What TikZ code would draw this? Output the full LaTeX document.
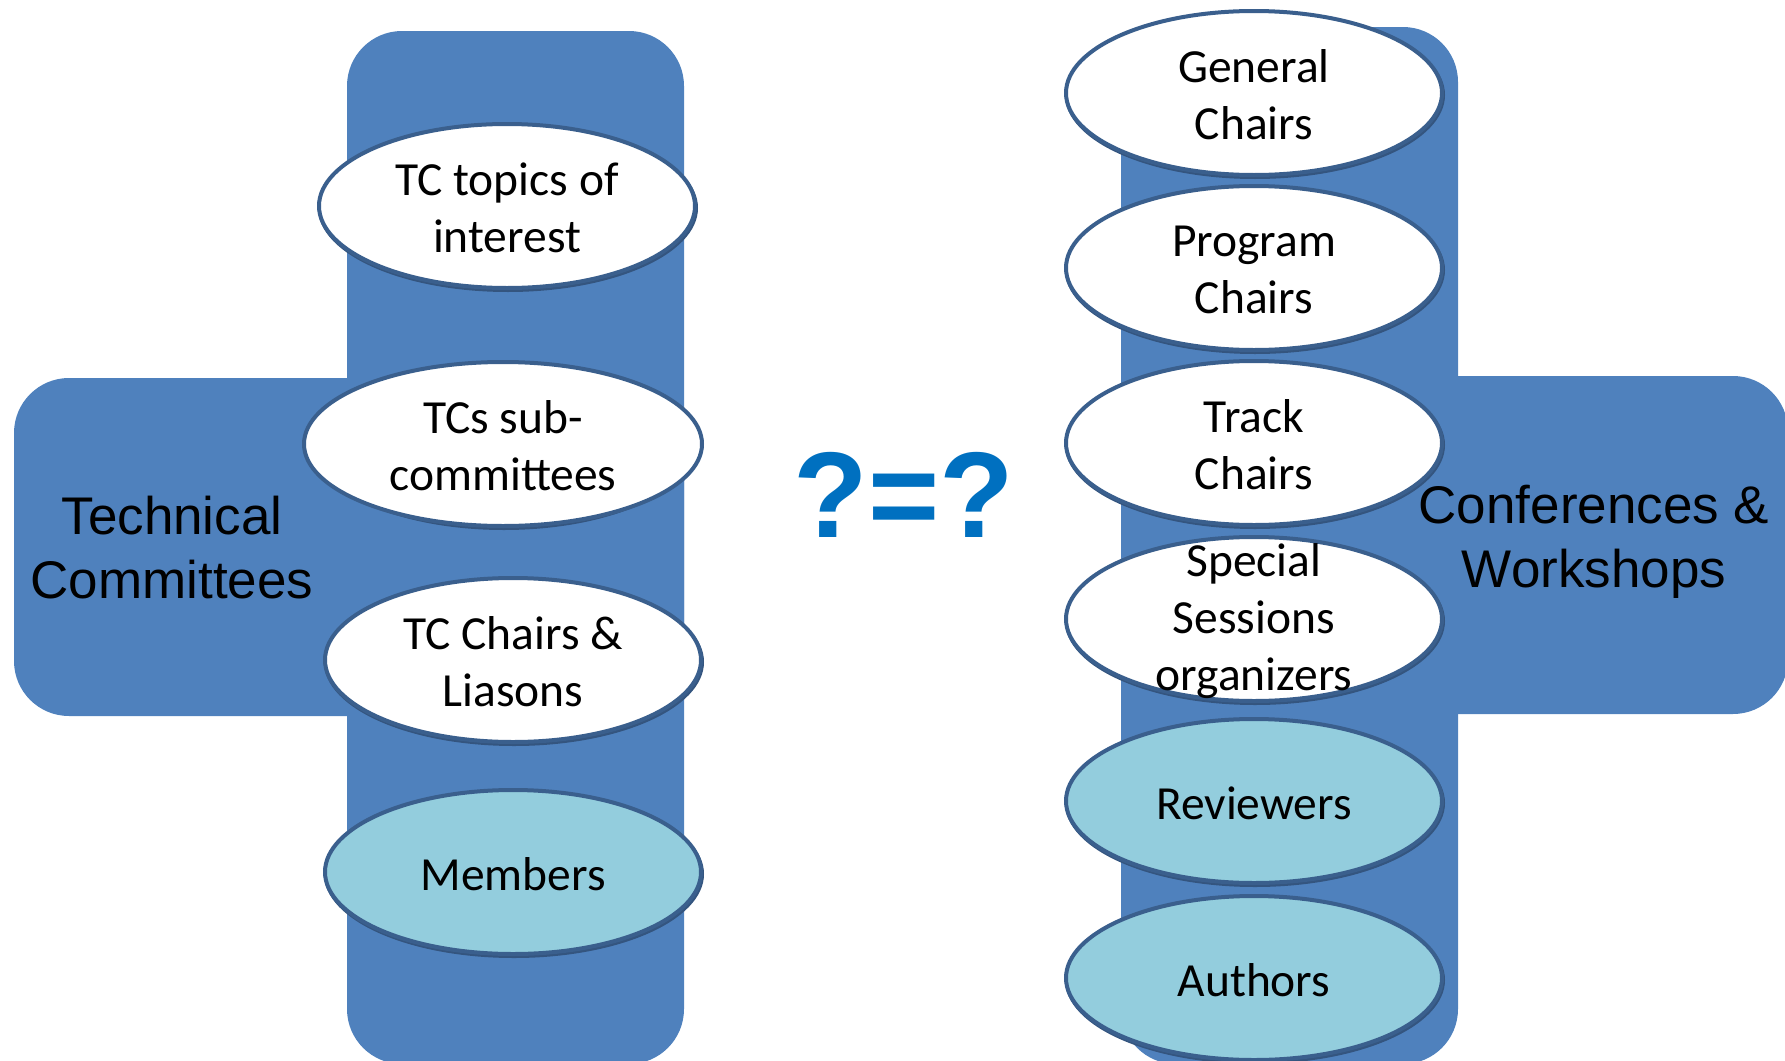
\documentclass[tikz,border=0pt]{standalone}
\usepackage{fontspec}
\setmainfont{Carlito}
\newfontfamily\arialf{Liberation Sans}
\usetikzlibrary{shapes.geometric}
\definecolor{barblue}{HTML}{4F81BD}
\definecolor{edgeblue}{HTML}{3A5F8D}
\definecolor{shadowblue}{HTML}{34557F}
\definecolor{lightfill}{HTML}{93CDDD}
\definecolor{qblue}{HTML}{0070C0}
\begin{document}
\begin{tikzpicture}[x=1pt,y=-1pt,
  bar/.style={fill=barblue, draw=none, rounded corners=55pt},
  oval/.style={ellipse, draw=edgeblue, line width=4pt, fill=white,
    minimum width=376pt, minimum height=164pt, inner sep=0pt},
  member/.style={oval, fill=lightfill},
  ovalshadow/.style={ellipse, fill=shadowblue, draw=none,
    minimum width=380pt, minimum height=168pt, inner sep=0pt},
  ovaltext/.style={align=center, inner sep=0pt, yshift=-2pt, font=\fontsize{47.5}{57}\selectfont},
  biglabel/.style={align=center, inner sep=0pt, font=\arialf\fontsize{53}{64}\selectfont}]
\useasboundingbox (0,0) rectangle (1785,1060);
\begin{scope}
\clip (0,0) rectangle (1785,1060);
% left cross
\path[bar] (347,31) rectangle (684,1064);
\path[bar] (14,378) rectangle (684,716);
% right cross
\path[bar] (1121,27) rectangle (1458,1064);
\path[bar] (1121,376) rectangle (1788,714);

% left ovals
\foreach \n/\x/\y in {s1/508/208, s2/504/446, s3/514/662, s4/514/874}
  \node[ovalshadow] (\n) at (\x,\y) {};
\node[oval] (l1) at (507,206) {};
\node[oval, minimum width=398pt] (l2) at (503,444) {};
\node[oval] (l3) at (513,660) {};
\node[member] (l4) at (513,872) {};
\node[ovaltext] (tl1) at (l1.center) {TC topics of\\interest};
\node[ovaltext] (tl2) at (l2.center) {TCs sub-\\committees};
\node[ovaltext] (tl3) at (l3.center) {TC Chairs \&\\Liasons};
\node[ovaltext] (tl4) at (l4.center) {Members};

% right ovals
\foreach \n/\y in {r1s/95, r2s/270, r3s/445, r4s/621, r5s/803, r6s/980}
  \node[ovalshadow] (\n) at (1255,\y) {};
\node[oval] (r1) at (1254,93) {};
\node[oval] (r2) at (1254,268) {};
\node[oval] (r3) at (1254,443) {};
\node[oval] (r4) at (1254,619) {};
\node[member] (r5) at (1254,801) {};
\node[member] (r6) at (1254,978) {};
\node[ovaltext] (tr1) at (r1.center) {General\\Chairs};
\node[ovaltext] (tr2) at (r2.center) {Program\\Chairs};
\node[ovaltext] (tr3) at (r3.center) {Track\\Chairs};
\node[ovaltext] (tr4) at (r4.center) {Special\\Sessions\\organizers};
\node[ovaltext] (tr5) at (r5.center) {Reviewers};
\node[ovaltext] (tr6) at (r6.center) {Authors};
\end{scope}

% big labels
\node[biglabel] (tc) at (172,548) {Technical\\Committees};
\node[biglabel] (cw) at (1594,542) {Conferences \&\\Workshops};
\node[anchor=base, inner sep=0pt, text=qblue, font=\arialf\bfseries\fontsize{122}{130}\selectfont] (q) at (904,537) {?=?};
\end{tikzpicture}
\end{document}
